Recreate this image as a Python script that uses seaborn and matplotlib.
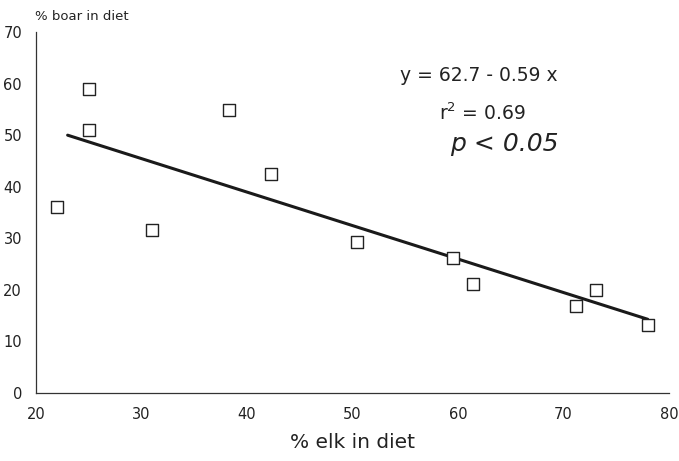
import matplotlib
matplotlib.use("Agg")
import matplotlib.pyplot as plt
import seaborn as sns
import pandas as pd

# data
elk = [22, 25, 25, 31, 38.3, 42.3, 50.4, 59.5, 61.4, 71.2, 73.1, 78.0]
boar = [36, 59, 51, 31.6, 54.8, 42.4, 29.3, 26.2, 21.1, 16.9, 20.0, 13.2]
fit_x = [23, 78]
fit_y = [50, 14.3]
x_ticks = [20, 30, 40, 50, 60, 70, 80]
y_ticks = [0, 10, 20, 30, 40, 50, 60, 70]

sns.set_theme(style="white")
plt.rcParams['font.family'] = ['DejaVu Sans']

df = pd.DataFrame({"elk": elk, "boar": boar})
fit = pd.DataFrame({"x": fit_x, "y": fit_y})

fig = plt.figure(figsize=(6.79, 4.61), dpi=100)
ax = fig.add_axes([0.053, 0.1475, 0.932, 0.783])

sns.lineplot(data=fit, x="x", y="y", ax=ax, color="#1a1a1a", linewidth=2.2)
sns.scatterplot(data=df, x="elk", y="boar", ax=ax, marker="s", s=75,
                facecolor="white", edgecolor="#222222", linewidth=1.0, zorder=3)

ax.set_xlim(20, 80)
ax.set_ylim(0, 70)
ax.set_xticks(x_ticks)
ax.set_yticks(y_ticks)
ax.tick_params(axis="x", direction="in", length=4, width=0.8, pad=10,
               labelsize=10.5, colors="#222222")
ax.tick_params(axis="y", direction="out", length=4, width=0.8, pad=6,
               labelsize=10.5, colors="#222222")
for s in ["top", "right"]:
    ax.spines[s].set_visible(False)
for s in ["left", "bottom"]:
    ax.spines[s].set_color("#333333")
    ax.spines[s].set_linewidth(0.9)

ax.set_xlabel("% elk in diet", fontsize=14.5, color="#222222", labelpad=8)
ax.set_ylabel("")
fig.text(0.052, 0.965, "% boar in diet", fontsize=9.5, color="#222222",
         ha="left", va="center")

ax.text(0.70, 0.88, "y = 62.7 - 0.59 x", transform=ax.transAxes,
        fontsize=13.5, ha="center", va="center", color="#222222")
ax.text(0.705, 0.776, "r$^{2}$ = 0.69", transform=ax.transAxes,
        fontsize=13.5, ha="center", va="center", color="#222222")
ax.text(0.74, 0.69, "p < 0.05", transform=ax.transAxes, style="italic",
        fontsize=18, ha="center", va="center", color="#222222")

fig.savefig("out.png", dpi=100, facecolor="white")
